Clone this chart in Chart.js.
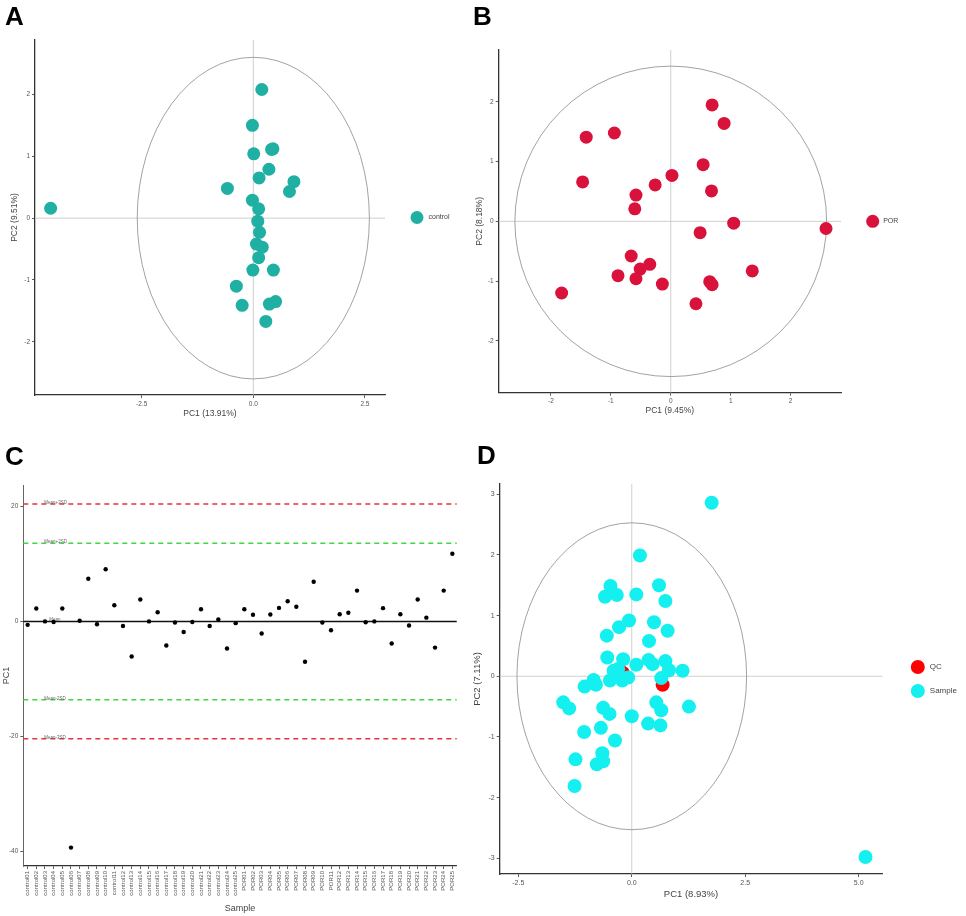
<!DOCTYPE html>
<html>
<head>
<meta charset="utf-8">
<script src="https://cdn.jsdelivr.net/npm/chart.js@4.4.1/dist/chart.umd.min.js"></script>
<style>
  body { margin: 0; background: #fff; }
  #fig { position: relative; width: 966px; height: 916px; overflow: hidden; font-family: "Liberation Sans", Arial, sans-serif; }
  #fig canvas { position: absolute; }
  .tag { position: absolute; font-weight: bold; font-size: 26px; line-height: 26px; color: #000; }
</style>
</head>
<body>
<div id="fig">
  <canvas id="chartA" width="483" height="460" style="left:0;top:0"></canvas>
  <canvas id="chartB" width="496" height="460" style="left:470px;top:0"></canvas>
  <canvas id="chartC" width="483" height="456" style="left:0;top:460px"></canvas>
  <canvas id="chartD" width="496" height="456" style="left:470px;top:460px"></canvas>
  <div class="tag" style="left:5px;top:3px">A</div>
  <div class="tag" style="left:473px;top:3px">B</div>
  <div class="tag" style="left:5px;top:443px">C</div>
  <div class="tag" style="left:477px;top:442px">D</div>
</div>
<script>
// A: control group PCA scores
const controlPC1 = [-4.54, 0.19, -0.02, 0.01, 0.41, 0.35, 0.13, -0.58, 0.91, 0.81, -0.02, 0.12, 0.10,
  0.14, 0.07, 0.20, 0.12, -0.01, 0.45, -0.38, -0.25, 0.36, 0.50, 0.28, 0.44];
const controlPC2 = [0.16, 2.08, 1.50, 1.04, 1.11, 0.79, 0.65, 0.48, 0.59, 0.43, 0.29, 0.15, -0.05,
  -0.23, -0.42, -0.47, -0.64, -0.84, -0.84, -1.10, -1.41, -1.39, -1.35, -1.67, 1.12];

// B: POR group PCA scores
const porPC1 = [0.69, 0.89, -1.41, -0.94, 0.54, 0.02, -0.26, -1.47, -0.58, 0.68, -0.60, 1.05, 2.59,
  0.49, -0.66, -0.35, -0.51, -0.88, -0.58, -0.14, 0.65, 0.69, 1.36, 0.42, -1.82];
const porPC2 = [1.95, 1.64, 1.41, 1.48, 0.95, 0.77, 0.61, 0.66, 0.44, 0.51, 0.21, -0.03, -0.12,
  -0.19, -0.58, -0.72, -0.80, -0.91, -0.96, -1.05, -1.01, -1.06, -0.83, -1.38, -1.20];

// C: PC1 score per sample with mean / SD limits
const sampleNames = ['control01', 'control02', 'control03', 'control04', 'control05', 'control06',
  'control07', 'control08', 'control09', 'control10', 'control11', 'control12', 'control13',
  'control14', 'control15', 'control16', 'control17', 'control18', 'control19', 'control20',
  'control21', 'control22', 'control23', 'control24', 'control25',
  'POR01', 'POR02', 'POR03', 'POR04', 'POR05', 'POR06', 'POR07', 'POR08', 'POR09', 'POR10',
  'POR11', 'POR12', 'POR13', 'POR14', 'POR15', 'POR16', 'POR17', 'POR18', 'POR19', 'POR20',
  'POR21', 'POR22', 'POR23', 'POR24', 'POR25'];
const pc1Scores = [-0.6, 2.25, 0, -0.1, 2.25, -39.3, 0.1, 7.4, -0.5, 9.05, 2.8, -0.8, -6.1, 3.8, 0,
  1.6, -4.2, -0.2, -1.85, -0.1, 2.1, -0.8, 0.35, -4.7, -0.3,
  2.1, 1.15, -2.1, 1.2, 2.35, 3.5, 2.55, -7.0, 6.9, -0.2, -1.55, 1.25, 1.5, 5.35, -0.15, 0, 2.3,
  -3.85, 1.25, -0.7, 3.8, 0.65, -4.55, 5.35, 11.75];
const limitValues = [20.4, 13.6, 0, -13.6, -20.4];
const limitLabels = ['Mean+3SD', 'Mean+2SD', 'Mean', 'Mean-2SD', 'Mean-3SD'];

// D: QC vs samples
const qcPC1 = [-0.20, 0.68];
const qcPC2 = [0.06, -0.14];
const samplePC1 = [1.76, 5.15, 0.18, -0.47, -0.59, -0.33, 0.10, 0.60, 0.74, -0.06, -0.28, 0.49, 0.79,
  -0.55, 0.38, -0.54, -0.19, 0.10, 0.37, 0.46, 0.74, 0.82, 1.12, -0.40, -0.48, -0.21, -0.08, -0.84,
  -1.04, -0.79, 0.65, -1.51, -1.38, -0.63, -0.49, 0.00, 0.54, 0.65, 1.26, 0.36, 0.63, -1.05, -0.68,
  -0.37, -1.24, -0.65, -0.63, -0.77, -1.26, -0.30];
const samplePC2 = [2.86, -2.98, 1.99, 1.49, 1.31, 1.34, 1.35, 1.50, 1.24, 0.92, 0.81, 0.89, 0.75,
  0.67, 0.58, 0.31, 0.28, 0.19, 0.27, 0.20, 0.25, 0.10, 0.09, 0.09, -0.07, -0.07, -0.02, -0.06,
  -0.17, -0.14, -0.03, -0.43, -0.53, -0.52, -0.62, -0.66, -0.43, -0.56, -0.50, -0.78, -0.81, -0.92,
  -0.85, -1.06, -1.37, -1.27, -1.40, -1.45, -1.81, 0.12];

const FONT = '"Liberation Sans", Arial, sans-serif';
Chart.defaults.font.family = FONT;
Chart.defaults.color = '#555';
Chart.defaults.animation = false;
Chart.defaults.events = [];

const toXY = (xs, ys) => xs.map((x, i) => ({ x: x, y: ys[i] }));

// works out padding + fixed axis sizes so the plot box lands where it sits in the figure
function frame(w, h, area, yTitleX, xTitleY, titleSize) {
  const half = titleSize * 1.2 / 2;
  return {
    padding: { left: yTitleX - half, top: area.top, right: w - area.right, bottom: h - (xTitleY + half) },
    yWidth: area.left - (yTitleX - half),
    xHeight: (xTitleY + half) - area.bottom
  };
}

function axis(o) {
  const ticks = {
    font: { size: o.tickSize }, color: '#555', padding: 2, autoSkip: false,
    maxRotation: o.rotate || 0, minRotation: o.rotate || 0
  };
  if (o.format) ticks.callback = o.format;
  const scale = {
    type: o.type || 'linear',
    offset: !!o.offset,
    border: { display: true, color: o.borderColor || '#333', width: o.borderWidth || 1.3 },
    grid: { display: true, drawOnChartArea: false, drawTicks: true, tickLength: 3, color: '#333', lineWidth: 0.8 },
    ticks: ticks,
    title: { display: true, text: o.title, font: { size: o.titleSize }, color: '#444', padding: 0 },
    afterFit: s => { if (o.width !== undefined) s.width = o.width; if (o.height !== undefined) s.height = o.height; }
  };
  if (o.min !== undefined) { scale.min = o.min; scale.max = o.max; }
  if (o.ticks) scale.afterBuildTicks = s => { s.ticks = o.ticks.map(v => ({ value: v })); };
  return scale;
}

// zero cross-hair and confidence ellipse behind the score points
const pcaGuides = {
  id: 'pcaGuides',
  beforeDatasetsDraw(chart, args, opts) {
    const { ctx, chartArea: a, scales: { x, y } } = chart;
    const x0 = x.getPixelForValue(0), y0 = y.getPixelForValue(0);
    ctx.save();
    ctx.strokeStyle = '#c4c4c4';
    ctx.lineWidth = 0.8;
    ctx.beginPath();
    ctx.moveTo(x0, a.top); ctx.lineTo(x0, a.bottom);
    ctx.moveTo(a.left, y0); ctx.lineTo(a.right, y0);
    ctx.stroke();
    ctx.strokeStyle = '#8a8a8a';
    ctx.beginPath();
    ctx.ellipse(x0, y0, Math.abs(x.getPixelForValue(opts.radius) - x0),
      Math.abs(y.getPixelForValue(opts.radius) - y0), 0, 0, Math.PI * 2);
    ctx.stroke();
    ctx.restore();
  }
};

// ggplot-like legend to the right of the panel
const sideLegend = {
  id: 'sideLegend',
  afterDraw(chart, args, opts) {
    const { ctx, chartArea: a } = chart;
    const sets = chart.data.datasets;
    const cy = (a.top + a.bottom) / 2;
    ctx.save();
    ctx.font = opts.fontSize + 'px ' + FONT;
    ctx.textBaseline = 'middle';
    sets.forEach((d, i) => {
      const y = cy + (i - (sets.length - 1) / 2) * opts.gap;
      const x = a.right + opts.dx;
      ctx.fillStyle = d.backgroundColor;
      ctx.beginPath();
      ctx.arc(x, y, opts.r, 0, Math.PI * 2);
      ctx.fill();
      ctx.fillStyle = '#444';
      ctx.fillText(d.label, x + opts.r + opts.textGap, y);
    });
    ctx.restore();
  }
};

function pcaChart(id, cfg) {
  const f = frame(cfg.w, cfg.h, cfg.area, cfg.yTitleX, cfg.xTitleY, cfg.titleSize);
  return new Chart(document.getElementById(id), {
    type: 'scatter',
    data: { datasets: cfg.datasets },
    options: {
      responsive: false,
      layout: { padding: f.padding },
      plugins: {
        legend: { display: false }, tooltip: { enabled: false },
        pcaGuides: { radius: cfg.radius },
        sideLegend: cfg.legend
      },
      scales: {
        x: axis({ min: cfg.x[0], max: cfg.x[1], ticks: cfg.xTicks, format: cfg.xFormat, title: cfg.xTitle,
          tickSize: cfg.tickSize, titleSize: cfg.titleSize, height: f.xHeight }),
        y: axis({ min: cfg.y[0], max: cfg.y[1], ticks: cfg.yTicks, format: cfg.yFormat, title: cfg.yTitle,
          tickSize: cfg.tickSize, titleSize: cfg.titleSize, width: f.yWidth })
      }
    },
    plugins: [pcaGuides, sideLegend]
  });
}

const fmt1 = v => v.toFixed(1);
const fmt0 = v => String(v);

pcaChart('chartA', {
  w: 483, h: 460, area: { left: 35, right: 385, top: 40, bottom: 395 },
  yTitleX: 15, xTitleY: 414, titleSize: 8.5, tickSize: 6.5,
  x: [-4.89, 2.95], y: [-2.86, 2.88], xTicks: [-2.5, 0, 2.5], yTicks: [-2, -1, 0, 1, 2],
  xFormat: fmt1, yFormat: fmt0, xTitle: 'PC1 (13.91%)', yTitle: 'PC2 (9.51%)', radius: 2.6,
  legend: { dx: 32, gap: 20, r: 6.5, textGap: 5, fontSize: 7 },
  datasets: [{ label: 'control', data: toXY(controlPC1, controlPC2), backgroundColor: '#1fb0a3',
    pointRadius: 6.5, borderWidth: 0 }]
});

pcaChart('chartB', {
  w: 496, h: 460, area: { left: 28.7, right: 371, top: 50, bottom: 392.7 },
  yTitleX: 10, xTitleY: 410.7, titleSize: 8.5, tickSize: 6.5,
  x: [-2.87, 2.84], y: [-2.87, 2.87], xTicks: [-2, -1, 0, 1, 2], yTicks: [-2, -1, 0, 1, 2],
  xFormat: fmt0, yFormat: fmt0, xTitle: 'PC1 (9.45%)', yTitle: 'PC2 (8.18%)', radius: 2.6,
  legend: { dx: 31.7, gap: 20, r: 6.5, textGap: 4, fontSize: 7 },
  datasets: [{ label: 'POR', data: toXY(porPC1, porPC2), backgroundColor: '#d8123a',
    pointRadius: 6.5, borderWidth: 0 }]
});

pcaChart('chartD', {
  w: 496, h: 456, area: { left: 29.7, right: 412.3, top: 24, bottom: 414 },
  yTitleX: 7, xTitleY: 434, titleSize: 9.5, tickSize: 7,
  x: [-2.91, 5.52], y: [-3.26, 3.17], xTicks: [-2.5, 0, 2.5, 5], yTicks: [-3, -2, -1, 0, 1, 2, 3],
  xFormat: fmt1, yFormat: fmt0, xTitle: 'PC1 (8.93%)', yTitle: 'PC2 (7.11%)', radius: 2.53,
  legend: { dx: 35.5, gap: 24, r: 7, textGap: 5, fontSize: 8 },
  datasets: [
    { label: 'QC', data: toXY(qcPC1, qcPC2), backgroundColor: '#ff0000', pointRadius: 7, borderWidth: 0, order: 1 },
    { label: 'Sample', data: toXY(samplePC1, samplePC2), backgroundColor: '#14f0f0', pointRadius: 7, borderWidth: 0, order: 0 }
  ]
});

// mean and +/- SD limit lines for panel C
const limitLines = {
  id: 'limitLines',
  beforeDatasetsDraw(chart) {
    const { ctx, chartArea: a, scales: { y } } = chart;
    ctx.save();
    limitValues.forEach((v, i) => {
      const py = y.getPixelForValue(v);
      const mean = v === 0;
      ctx.strokeStyle = mean ? '#111' : (Math.abs(v) > 17 ? '#e3343f' : '#3fd83f');
      ctx.lineWidth = 1.5;
      ctx.setLineDash(mean ? [] : [5, 4]);
      ctx.beginPath();
      ctx.moveTo(a.left, py); ctx.lineTo(a.right, py);
      ctx.stroke();
      ctx.fillStyle = '#666';
      ctx.font = '4.5px ' + FONT;
      ctx.textBaseline = 'bottom';
      ctx.fillText(limitLabels[i], a.left + (mean ? 26 : 21), py + 1);
    });
    ctx.restore();
  }
};

(function () {
  const f = frame(483, 456, { left: 23.3, right: 456.7, top: 25, bottom: 406 }, 7, 449, 9);
  new Chart(document.getElementById('chartC'), {
    type: 'line',
    data: {
      labels: sampleNames,
      datasets: [{ label: 'PC1', data: pc1Scores, showLine: false, pointRadius: 2.2,
        pointBackgroundColor: '#000', pointBorderWidth: 0 }]
    },
    options: {
      responsive: false,
      layout: { padding: f.padding },
      plugins: { legend: { display: false }, tooltip: { enabled: false } },
      scales: {
        x: axis({ type: 'category', offset: true, rotate: 90, title: 'Sample', tickSize: 6,
          titleSize: 9, height: f.xHeight }),
        y: axis({ min: -42.5, max: 23.7, ticks: [-40, -20, 0, 20], format: fmt0, title: 'PC1',
          tickSize: 6.5, titleSize: 9, width: f.yWidth, borderColor: '#666', borderWidth: 1 })
      }
    },
    plugins: [limitLines]
  });
})();
</script>
</body>
</html>
